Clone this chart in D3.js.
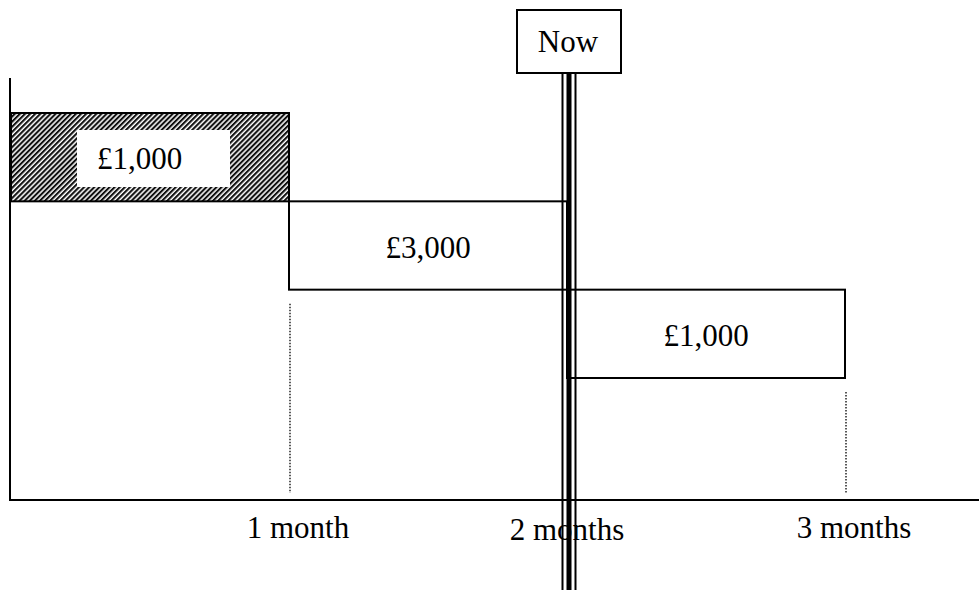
<!DOCTYPE html>
<html>
<head>
<meta charset="utf-8">
<script src="https://cdn.jsdelivr.net/npm/d3@7"></script>
<style>
  body { margin: 0; background: #fff; }
  text { font-family: "Liberation Serif", "Times New Roman", serif; fill: #000; }
</style>
</head>
<body>
<div id="chart"></div>
<script>
// Payment steps: start month, end month, amount label
var stepStart = [0, 1, 2];
var stepEnd = [1, 2, 3];
var stepAmount = ["£1,000", "£3,000", "£1,000"];
var stepPaid = [true, false, false];

// Axis ticks
var tickMonths = [1, 2, 3];
var tickLabels = ["1 month", "2 months", "3 months"];

// dotted guides: month, and the step row they hang from
var guideMonths = [1, 3];
var guideRows = [1, 2];

// Marker for today
var nowMonth = 2;
var nowLabel = "Now";

var svgWidth = 979;
var svgHeight = 590;

var svg = d3.select("#chart")
  .append("svg")
  .attr("width", svgWidth)
  .attr("height", svgHeight);

var x = d3.scaleLinear().domain([0, 3]).range([11, 845]);
var y = d3.scaleBand().domain(d3.range(stepAmount.length)).range([113, 378]);

var axisY = 500;

// hatch pattern for the paid step
var defs = svg.append("defs");
var pat = defs.append("pattern")
  .attr("id", "hatch")
  .attr("patternUnits", "userSpaceOnUse")
  .attr("width", 3.6)
  .attr("height", 10)
  .attr("patternTransform", "rotate(45)");
pat.append("rect").attr("width", 3.6).attr("height", 10).attr("fill", "#fff");
pat.append("rect").attr("width", 2.1).attr("height", 10).attr("fill", "#111");

// axes
svg.append("line")
  .attr("x1", 10).attr("x2", 10)
  .attr("y1", 78).attr("y2", axisY + 1)
  .attr("stroke", "#000").attr("stroke-width", 2);

svg.append("line")
  .attr("x1", 9).attr("x2", svgWidth)
  .attr("y1", axisY).attr("y2", axisY)
  .attr("stroke", "#000").attr("stroke-width", 2);

// dotted guides down to the axis
svg.selectAll(".guide")
  .data(guideMonths)
  .enter()
  .append("line")
  .attr("class", "guide")
  .attr("x1", d => x(d) + 1)
  .attr("x2", d => x(d) + 1)
  .attr("y1", (d, i) => y(guideRows[i]) + y.bandwidth() + 14)
  .attr("y2", axisY - 7)
  .attr("stroke", "#000")
  .attr("stroke-width", 1.3)
  .attr("stroke-dasharray", "1.5,1.5");

// step bars
svg.selectAll(".step")
  .data(stepAmount)
  .enter()
  .append("rect")
  .attr("class", "step")
  .attr("x", (d, i) => x(stepStart[i]))
  .attr("y", (d, i) => y(i))
  .attr("width", (d, i) => x(stepEnd[i]) - x(stepStart[i]))
  .attr("height", y.bandwidth())
  .attr("fill", (d, i) => stepPaid[i] ? "url(#hatch)" : "#fff")
  .attr("stroke", "#000")
  .attr("stroke-width", 2);

// white box behind the paid label
stepAmount.forEach(function(d, i) {
  if (!stepPaid[i]) return;
  svg.append("rect")
    .attr("x", x(stepStart[i]) + 66)
    .attr("y", y(i) + 17)
    .attr("width", 153)
    .attr("height", 57)
    .attr("fill", "#fff");
});

svg.selectAll(".amount")
  .data(stepAmount)
  .enter()
  .append("text")
  .attr("class", "amount")
  .attr("x", (d, i) => stepPaid[i] ? x(stepStart[i]) + 86 : (x(stepStart[i]) + x(stepEnd[i])) / 2)
  .attr("y", (d, i) => y(i) + y.bandwidth() / 2 + 12)
  .attr("text-anchor", (d, i) => stepPaid[i] ? "start" : "middle")
  .style("font-size", "31px")
  .text(d => d);

// month labels
svg.selectAll(".tick-label")
  .data(tickLabels)
  .enter()
  .append("text")
  .attr("class", "tick-label")
  .attr("x", (d, i) => x(tickMonths[i]) + (i === 1 ? 0 : 9))
  .attr("y", (d, i) => i === 1 ? 540 : 538)
  .attr("text-anchor", "middle")
  .style("font-size", "31px")
  .text(d => d);

// "Now" marker: triple line plus labelled box
var nx = x(nowMonth) + 2;
var lineTop = 73;
[[-6.5, 2], [0, 5], [6.5, 2]].forEach(function(l) {
  svg.append("line")
    .attr("x1", nx + l[0]).attr("x2", nx + l[0])
    .attr("y1", lineTop).attr("y2", svgHeight)
    .attr("stroke", "#000")
    .attr("stroke-width", l[1]);
});

svg.append("rect")
  .attr("x", nx - 52)
  .attr("y", 10)
  .attr("width", 104)
  .attr("height", 63)
  .attr("fill", "#fff")
  .attr("stroke", "#000")
  .attr("stroke-width", 2);

svg.append("text")
  .attr("x", nx - 1)
  .attr("y", 52)
  .attr("text-anchor", "middle")
  .style("font-size", "31px")
  .text(nowLabel);
</script>
</body>
</html>
